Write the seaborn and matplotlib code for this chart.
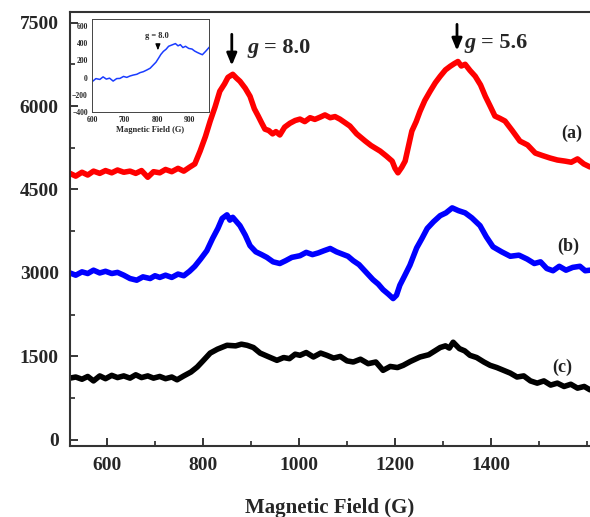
import matplotlib
matplotlib.use("Agg")
import matplotlib.pyplot as plt
import seaborn as sns
import pandas as pd
from matplotlib.ticker import MultipleLocator

sns.set_theme(style="white")
plt.rcParams['font.family'] = ['Liberation Serif', 'DejaVu Serif']
plt.rcParams['font.weight'] = 'bold'

# ---- data ----
a_field = [523, 535, 548, 560, 572, 585, 597, 610, 622, 635, 648, 660, 672, 685, 697, 710, 722, 735, 748, 760,
           772, 783, 794, 805, 815, 825, 835, 845, 852, 862, 870, 877, 888, 898, 907, 915, 922, 929, 937, 945, 952,
           960, 970, 981, 992, 1002, 1012, 1023, 1033, 1044, 1054, 1065, 1075, 1085, 1096, 1106, 1120, 1138, 1150,
           1169, 1182, 1194, 1200, 1206, 1214, 1221, 1235, 1244, 1252, 1262, 1273, 1284, 1294, 1305, 1315, 1323,
           1331, 1338, 1346, 1356, 1367, 1378, 1388, 1398, 1408, 1418, 1429, 1444, 1460, 1476, 1492, 1507, 1523,
           1538, 1554, 1567, 1580, 1593, 1606]
a_signal = [4790, 4740, 4810, 4760, 4830, 4790, 4840, 4800, 4850, 4810, 4830, 4790, 4840, 4720, 4820, 4800, 4860,
            4820, 4880, 4830, 4900, 4960, 5190, 5450, 5730, 5980, 6265, 6400, 6515, 6570, 6500, 6445, 6320, 6175,
            5950, 5820, 5700, 5585, 5560, 5500, 5540, 5480, 5620, 5690, 5740, 5765, 5720, 5790, 5760, 5800, 5840,
            5790, 5810, 5765, 5700, 5640, 5500, 5370, 5290, 5190, 5100, 5010, 4880, 4800, 4900, 5010, 5550, 5720,
            5905, 6100, 6265, 6420, 6535, 6650, 6715, 6760, 6800, 6720, 6750, 6640, 6535, 6380, 6175, 6000, 5820,
            5780, 5730, 5560, 5370, 5300, 5155, 5110, 5065, 5030, 5010, 4990, 5050, 4960, 4905]

b_field = [523, 535, 548, 560, 572, 585, 597, 610, 622, 635, 648, 662, 675, 690, 700, 710, 722, 735, 748, 760,
           772, 783, 795, 808, 820, 831, 840, 850, 856, 862, 870, 877, 888, 898, 910, 922, 933, 946, 960, 972, 985,
           1002, 1015, 1028, 1040, 1052, 1065, 1078, 1090, 1102, 1113, 1125, 1140, 1154, 1165, 1175, 1186, 1196,
           1203, 1210, 1220, 1231, 1245, 1256, 1267, 1280, 1294, 1306, 1319, 1332, 1346, 1360, 1377, 1390, 1404,
           1422, 1440, 1458, 1475, 1490, 1503, 1516, 1529, 1542, 1556, 1570, 1585, 1596, 1606]
b_signal = [3000, 2960, 3020, 2990, 3050, 3000, 3030, 2990, 3010, 2960, 2900, 2870, 2930, 2900, 2950, 2920, 2960,
            2920, 2980, 2950, 3030, 3120, 3250, 3400, 3620, 3800, 3980, 4045, 3950, 4000, 3920, 3850, 3680, 3490,
            3380, 3330, 3280, 3200, 3170, 3220, 3280, 3310, 3370, 3330, 3360, 3400, 3440, 3380, 3340, 3300, 3220,
            3150, 3010, 2880, 2800, 2700, 2620, 2540, 2600, 2780, 2950, 3140, 3450, 3620, 3800, 3920, 4030, 4080,
            4170, 4120, 4080, 3990, 3850, 3650, 3470, 3380, 3300, 3320, 3250, 3170, 3200, 3080, 3040, 3120, 3050,
            3100, 3120, 3040, 3050]

c_field = [523, 535, 548, 560, 572, 585, 597, 610, 622, 635, 648, 660, 672, 685, 697, 710, 722, 735, 746, 760,
           775, 788, 800, 815, 830, 850, 868, 880, 892, 905, 919, 935, 954, 968, 980, 992, 1002, 1015, 1030, 1045,
           1058, 1072, 1086, 1100, 1113, 1128, 1144, 1160, 1175, 1190, 1205, 1217, 1232, 1252, 1270, 1283, 1294,
           1305, 1313, 1321, 1334, 1345, 1356, 1370, 1385, 1398, 1412, 1426, 1440, 1454, 1468, 1482, 1496, 1510,
           1524, 1538, 1552, 1566, 1580, 1594, 1606]
c_signal = [1110, 1130, 1090, 1140, 1060, 1150, 1100, 1160, 1120, 1150, 1110, 1170, 1120, 1150, 1110, 1140, 1100,
            1130, 1080, 1150, 1220, 1310, 1420, 1560, 1630, 1700, 1690, 1720, 1700, 1660, 1560, 1500, 1430, 1480,
            1460, 1540, 1520, 1570, 1490, 1560, 1520, 1470, 1500, 1420, 1400, 1450, 1370, 1400, 1250, 1320, 1300,
            1340, 1410, 1490, 1530, 1600, 1660, 1690, 1650, 1755, 1640, 1600, 1520, 1480, 1400, 1340, 1300, 1250,
            1200, 1130, 1150, 1060, 1020, 1060, 985, 1020, 960, 1000, 930, 960, 900]

inset_field = [600, 612, 624, 634, 644, 654, 665, 676, 686, 697, 707, 717, 727, 738, 748, 758, 769, 779, 789,
               797, 805, 812, 820, 828, 836, 846, 857, 865, 872, 880, 888, 898, 908, 916, 924, 932, 940, 950, 962]
inset_signal = [-47, -10, -20, 10, -16, -5, -39, -10, -8, 15, 4, 20, 31, 40, 59, 70, 90, 110, 149, 180, 227, 270,
                306, 330, 365, 380, 396, 370, 384, 350, 365, 340, 333, 310, 294, 280, 267, 306, 357]

x_ticks = [600, 800, 1000, 1200, 1400]
y_ticks = [0, 1500, 3000, 4500, 6000, 7500]
inset_xticks = [600, 700, 800, 900]
inset_yticks = [-400, -200, 0, 200, 400, 600]
curve_labels = ["(a)", "(b)", "(c)"]
curve_colors = ["#ff0000", "#0000ff", "#000000"]

df = pd.concat([
    pd.DataFrame({"field": a_field, "signal": a_signal, "curve": "(a)"}),
    pd.DataFrame({"field": b_field, "signal": b_signal, "curve": "(b)"}),
    pd.DataFrame({"field": c_field, "signal": c_signal, "curve": "(c)"}),
])

fig = plt.figure(figsize=(5.9, 5.17), dpi=100)
ax = fig.add_axes([0.1186, 0.1373, 0.8814, 0.8395])
sns.lineplot(data=df, x="field", y="signal", hue="curve", palette=curve_colors, linewidth=4,
             ax=ax, legend=False, sort=False, estimator=None)

ax.set_xlim(523, 1606)
ax.set_ylim(-110, 7690)
ax.set_xticks(x_ticks)
ax.set_yticks(y_ticks)
ax.xaxis.set_minor_locator(MultipleLocator(100))
ax.yaxis.set_minor_locator(MultipleLocator(750))
ax.tick_params(axis='both', which='major', direction='in', length=6, width=1.3, labelsize=14, pad=8,
               bottom=True, left=True, top=False, right=False)
ax.tick_params(axis='both', which='minor', direction='in', length=3.5, width=1.2,
               bottom=True, left=True, top=False, right=False)
for lab in ax.get_xticklabels() + ax.get_yticklabels():
    lab.set_fontweight('bold')
ax.set_xlabel("Magnetic Field (G)", fontsize=15, fontweight='bold', labelpad=17)
ax.set_ylabel("")
for s in ['left', 'bottom', 'top']:
    ax.spines[s].set_linewidth(1.5)
    ax.spines[s].set_color('#333333')
ax.spines['right'].set_visible(False)

# curve labels
label_pos = [(1569, 5513), (1560, 3473), (1548, 1307)]
for t, (x, y) in zip(curve_labels, label_pos):
    ax.text(x, y, t, fontsize=13, fontweight='bold', ha='center', va='center', color='#222222')

# g-value annotations
for (xa, ytop, ybot, xt, yt, val) in [(860, 7339, 6677, 893, 7035, "8.0"), (1329, 7518, 6945, 1345, 7124, "5.6")]:
    ax.annotate("", xy=(xa, ybot), xytext=(xa, ytop),
                arrowprops=dict(arrowstyle="-|>,head_length=0.6,head_width=0.25", color='black', lw=2))
    ax.text(xt, yt, "g", fontsize=16, weight='bold', style='italic', ha='left', va='center',
            family='Liberation Serif')
    ax.annotate("= " + val, xy=(xt, yt), xytext=(12, 0), textcoords='offset points',
                fontsize=16, weight='bold', ha='left', va='center', family='Liberation Serif')

# inset
axin = fig.add_axes([0.156, 0.783, 0.198, 0.180])
sns.lineplot(x=inset_field, y=inset_signal, color="#1a3cff", linewidth=1.1, ax=axin, sort=False, estimator=None)
axin.set_xlim(600, 960)
axin.set_ylim(-400, 680)
axin.set_xticks(inset_xticks)
axin.set_yticks(inset_yticks)
axin.tick_params(axis='both', which='major', direction='out', length=2, width=0.6, labelsize=5.5, pad=1)
for lab in axin.get_xticklabels() + axin.get_yticklabels():
    lab.set_fontweight('bold')
axin.set_xlabel("Magnetic Field (G)", fontsize=6, fontweight='bold', labelpad=1)
axin.set_ylabel("")
for s in axin.spines.values():
    s.set_linewidth(0.7)
    s.set_color('#444444')
axin.annotate("", xy=(803, 286), xytext=(803, 420),
              arrowprops=dict(arrowstyle="-|>,head_length=0.3,head_width=0.12", color='black', lw=0.8))
axin.text(800, 480, "g = 8.0", fontsize=6, fontweight='bold', ha='center', va='center')

fig.savefig("out.png", dpi=100)
